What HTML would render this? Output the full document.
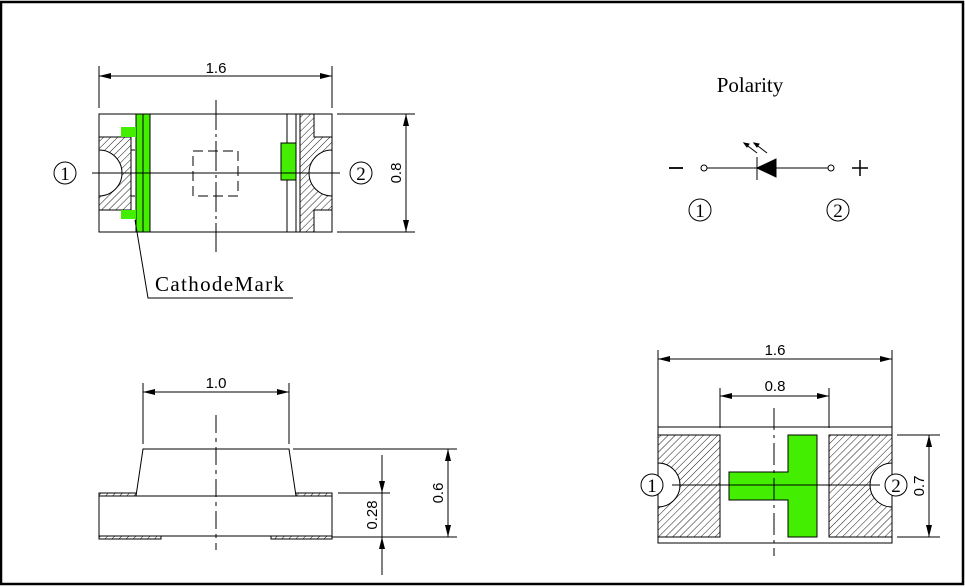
<!DOCTYPE html>
<html><head><meta charset="utf-8"><style>
html,body{margin:0;padding:0;background:#fff;}
svg{display:block;}
text{font-family:"Liberation Sans",sans-serif;fill:#000;}
.s{font-family:"Liberation Serif",serif;}
</style></head><body>
<svg width="965" height="587" viewBox="0 0 965 587" xmlns="http://www.w3.org/2000/svg">
<defs>
<pattern id="h" patternUnits="userSpaceOnUse" width="5" height="5" patternTransform="rotate(45)">
<line x1="0" y1="0" x2="0" y2="5" stroke="#000" stroke-width="0.9"/>
</pattern>
<marker id="a" viewBox="0 0 12 6" refX="12" refY="3" markerWidth="12" markerHeight="6" orient="auto-start-reverse" markerUnits="userSpaceOnUse">
<path d="M0,0 L12,3 L0,6 z" fill="#000"/></marker>
</defs>
<rect x="1" y="2" width="962" height="582" fill="none" stroke="#000" stroke-width="2.5"/>

<g stroke="#000" stroke-width="1" fill="none">
<!-- TOP LEFT -->
<line x1="99" y1="66" x2="99" y2="108"/><line x1="332" y1="66" x2="332" y2="108"/>
<line x1="99" y1="76" x2="332" y2="76" marker-start="url(#a)" marker-end="url(#a)"/>
<rect x="99" y="114" width="233" height="118"/>
<path d="M99,137 H131 V210 H99 V196 A23,23 0 0 0 99,150 Z" fill="url(#h)"/>
<line x1="131" y1="150" x2="135" y2="150"/><line x1="131" y1="196" x2="135" y2="196"/>
<path d="M300,114 H314 V137 H332 V150 A23,23 0 0 0 332,196 V210 H314 V232 H300 Z" fill="url(#h)"/>
<line x1="287" y1="114" x2="287" y2="232"/><line x1="296" y1="114" x2="296" y2="232"/>
<rect x="136" y="114" width="14" height="118" fill="#44ee00"/>
<line x1="143" y1="114" x2="143" y2="232"/>
<rect x="121" y="127" width="15" height="10" fill="#44ee00" stroke="none"/>
<rect x="121" y="210" width="15" height="9" fill="#44ee00" stroke="none"/>
<rect x="281" y="143" width="15" height="37" fill="#44ee00"/>
<rect x="193" y="151" width="45" height="45" stroke-dasharray="10,5"/>
<line x1="216" y1="100" x2="216" y2="252" stroke-dasharray="30,4,3,4"/>
<line x1="92" y1="173" x2="340" y2="173"/>
<line x1="337" y1="114" x2="415" y2="114"/><line x1="337" y1="232" x2="415" y2="232"/>
<line x1="406" y1="114" x2="406" y2="232" marker-start="url(#a)" marker-end="url(#a)"/>
<path d="M135,220 L148,298 H293"/>
<circle cx="65" cy="173" r="11"/><circle cx="361" cy="173" r="11"/>

<!-- POLARITY -->
<line x1="707" y1="168" x2="828" y2="168"/>
<circle cx="704" cy="168" r="3" fill="#fff"/><circle cx="831" cy="168" r="3" fill="#fff"/>
<path d="M757,168 L776,159 V177 Z" fill="#000"/>
<line x1="757" y1="157" x2="757" y2="180"/>
<line x1="757" y1="153" x2="744" y2="143"/>
<line x1="767" y1="153" x2="754" y2="143"/>
<path d="M744,143 l5,1 l-2,3 z M754,143 l5,1 l-2,3 z" fill="#000"/>
<line x1="669" y1="168" x2="683" y2="168" stroke-width="1.8"/>
<line x1="852" y1="168" x2="868" y2="168" stroke-width="1.5"/><line x1="860" y1="160" x2="860" y2="176" stroke-width="1.5"/>
<circle cx="700" cy="210" r="11"/><circle cx="838" cy="210" r="11"/>

<!-- BOTTOM LEFT -->
<line x1="143" y1="383" x2="143" y2="444"/><line x1="289" y1="383" x2="289" y2="444"/>
<line x1="143" y1="392" x2="289" y2="392" marker-start="url(#a)" marker-end="url(#a)"/>
<path d="M143,449 H289 L296,496 H136 Z"/>
<rect x="99" y="496" width="233" height="40"/>
<rect x="99" y="493" width="37" height="3" fill="url(#h)"/>
<rect x="296" y="493" width="36" height="3" fill="url(#h)"/>
<rect x="99" y="536" width="62" height="3" fill="url(#h)"/>
<rect x="271" y="536" width="61" height="3" fill="url(#h)"/>
<line x1="216" y1="415" x2="216" y2="550" stroke-dasharray="18,5,4,5"/>
<line x1="293" y1="449" x2="457" y2="449"/><line x1="332" y1="537" x2="457" y2="537"/>
<line x1="448" y1="449" x2="448" y2="537" marker-start="url(#a)" marker-end="url(#a)"/>
<line x1="338" y1="493" x2="390" y2="493"/>
<line x1="382" y1="455" x2="382" y2="493" marker-end="url(#a)"/>
<line x1="382" y1="575" x2="382" y2="537" marker-end="url(#a)"/>
<line x1="382" y1="493" x2="382" y2="537"/>

<!-- BOTTOM RIGHT -->
<line x1="658" y1="350" x2="658" y2="427"/><line x1="892" y1="350" x2="892" y2="427"/>
<line x1="658" y1="359" x2="892" y2="359" marker-start="url(#a)" marker-end="url(#a)"/>
<line x1="720" y1="388" x2="720" y2="428"/><line x1="829" y1="388" x2="829" y2="428"/>
<line x1="720" y1="396" x2="829" y2="396" marker-start="url(#a)" marker-end="url(#a)"/>
<rect x="658" y="427" width="234" height="116"/>
<path d="M658,435 H720 V537 H658 V507 A22,22 0 0 0 658,463 Z" fill="url(#h)"/>
<path d="M892,435 H829 V537 H892 V507 A22,22 0 0 1 892,463 Z" fill="url(#h)"/>
<path d="M788,435 H817 V537 H788 V500 H729 V472 H788 Z" fill="#44ee00"/>
<line x1="774" y1="408" x2="774" y2="556" stroke-dasharray="22,5,3,5"/>
<line x1="672" y1="485" x2="880" y2="485"/>
<line x1="897" y1="435" x2="940" y2="435"/><line x1="897" y1="537" x2="940" y2="537"/>
<line x1="929" y1="435" x2="929" y2="537" marker-start="url(#a)" marker-end="url(#a)"/>
<circle cx="652" cy="485" r="11" fill="#fff"/><circle cx="896" cy="485" r="11" fill="#fff"/>
</g>

<!-- texts -->
<text x="216" y="73" font-size="15" text-anchor="middle">1.6</text>
<text x="65" y="180" font-size="19" text-anchor="middle" class="s">1</text>
<text x="361" y="180" font-size="19" text-anchor="middle" class="s">2</text>
<text transform="translate(401,173) rotate(-90)" font-size="15" text-anchor="middle">0.8</text>
<text x="155" y="291" font-size="21" class="s" textLength="129">CathodeMark</text>
<text x="750" y="92" font-size="21" text-anchor="middle" class="s">Polarity</text>
<text x="700" y="217" font-size="19" text-anchor="middle" class="s">1</text>
<text x="838" y="217" font-size="19" text-anchor="middle" class="s">2</text>
<text x="216" y="388" font-size="15" text-anchor="middle">1.0</text>
<text transform="translate(443,493) rotate(-90)" font-size="15" text-anchor="middle">0.6</text>
<text transform="translate(377,515) rotate(-90)" font-size="15" text-anchor="middle">0.28</text>
<text x="775" y="355" font-size="15" text-anchor="middle">1.6</text>
<text x="775" y="391" font-size="15" text-anchor="middle">0.8</text>
<text x="652" y="492" font-size="19" text-anchor="middle" class="s">1</text>
<text x="896" y="492" font-size="19" text-anchor="middle" class="s">2</text>
<text transform="translate(924,486) rotate(-90)" font-size="15" text-anchor="middle">0.7</text>
</svg>
</body></html>
